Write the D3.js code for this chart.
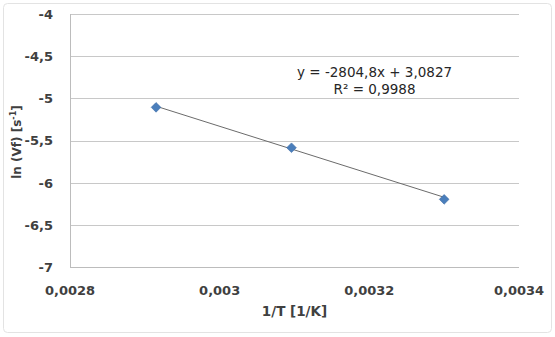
<!DOCTYPE html>
<html>
<head>
<meta charset="utf-8">
<script src="https://cdn.jsdelivr.net/npm/d3@7"></script>
<style>
  body { margin: 0; background: #fff; }
  text { font-family: "DejaVu Sans", Verdana, sans-serif; }
</style>
</head>
<body>
<div id="chart"></div>
<script>
// data
const invT = [0.002915, 0.003096, 0.0033];
const lnVf = [-5.107, -5.586, -6.198];
const xTicks = [0.0028, 0.003, 0.0032, 0.0034];
const yTicks = [-4, -4.5, -5, -5.5, -6, -6.5, -7];
const slope = -2804.8;
const intercept = 3.0827;
const eqText = ['y = -2804,8x + 3,0827', 'R² = 0,9988'];

const W = 555, H = 337;
const margin = {top: 14, right: 36, bottom: 70, left: 70};
const width = W - margin.left - margin.right;
const height = H - margin.top - margin.bottom;

const svg = d3.select('#chart').append('svg')
    .attr('width', W)
    .attr('height', H);

// outer frame
svg.append('rect')
    .attr('x', 3.5).attr('y', 3.5)
    .attr('width', W - 7).attr('height', H - 8)
    .attr('rx', 4)
    .attr('fill', '#fff')
    .attr('stroke', '#e3e3e3');

const chart = svg.append('g')
    .attr('transform', `translate(${margin.left},${margin.top})`);

const x = d3.scaleLinear().domain([0.0028, 0.0034]).range([0, width]);
const y = d3.scaleLinear().domain([-7, -4]).range([height, 0]);

const comma = v => String(v).replace('.', ',');

// horizontal gridlines
chart.selectAll('.grid')
    .data(yTicks)
  .join('line')
    .attr('class', 'grid')
    .attr('x1', 0).attr('x2', width)
    .attr('y1', d => Math.round(y(d)) + 0.5)
    .attr('y2', d => Math.round(y(d)) + 0.5)
    .attr('stroke', '#c8c8c8');

// axis lines
chart.append('line')
    .attr('x1', 0.5).attr('x2', 0.5)
    .attr('y1', 0).attr('y2', height)
    .attr('stroke', '#bcbcbc');
chart.append('line')
    .attr('x1', 0).attr('x2', width)
    .attr('y1', Math.round(height) + 0.5).attr('y2', Math.round(height) + 0.5)
    .attr('stroke', '#bcbcbc');

// y tick labels
chart.selectAll('.ylab')
    .data(yTicks)
  .join('text')
    .attr('class', 'ylab')
    .attr('x', -17)
    .attr('y', d => y(d))
    .attr('dy', '0.38em')
    .attr('text-anchor', 'end')
    .attr('font-size', 13)
    .attr('font-weight', 'bold')
    .attr('fill', '#404040')
    .text(d => comma(d));

// x tick labels
chart.selectAll('.xlab')
    .data(xTicks)
  .join('text')
    .attr('class', 'xlab')
    .attr('x', d => x(d))
    .attr('y', height + 28)
    .attr('text-anchor', 'middle')
    .attr('font-size', 13)
    .attr('font-weight', 'bold')
    .attr('fill', '#404040')
    .text(d => comma(d));

// axis titles
svg.append('text')
    .attr('x', margin.left + x(0.0031))
    .attr('y', 316)
    .attr('text-anchor', 'middle')
    .attr('font-size', 13.5)
    .attr('font-weight', 'bold')
    .attr('fill', '#404040')
    .text('1/T [1/K]');

const yt = svg.append('text')
    .attr('transform', 'translate(21,142) rotate(-90)')
    .attr('text-anchor', 'middle')
    .attr('font-size', 12)
    .attr('font-weight', 'bold')
    .attr('fill', '#404040');
yt.append('tspan').text('ln (Vf) [s');
yt.append('tspan').attr('font-size', 8).attr('dy', -5).text('-1');
yt.append('tspan').attr('dy', 5).text(']');

// trend line
const xr = d3.extent(invT);
chart.append('line')
    .attr('x1', x(xr[0])).attr('y1', y(slope * xr[0] + intercept))
    .attr('x2', x(xr[1])).attr('y2', y(slope * xr[1] + intercept))
    .attr('stroke', '#6b6b6b')
    .attr('stroke-width', 1);

// markers
chart.selectAll('.pt')
    .data(invT)
  .join('path')
    .attr('class', 'pt')
    .attr('d', d3.symbol(d3.symbolDiamond2, 60))
    .attr('transform', (d, i) => `translate(${x(d)},${y(lnVf[i])})`)
    .attr('fill', '#4a7ebb')
    .attr('stroke', '#3a6aa5')
    .attr('stroke-width', 0.6);

// equation label
chart.selectAll('.eq')
    .data(eqText)
  .join('text')
    .attr('class', 'eq')
    .attr('x', x(0.003207))
    .attr('y', (d, i) => 63 + i * 17)
    .attr('text-anchor', 'middle')
    .attr('font-size', 13.5)
    .attr('fill', '#262626')
    .text(d => d);
</script>
</body>
</html>
